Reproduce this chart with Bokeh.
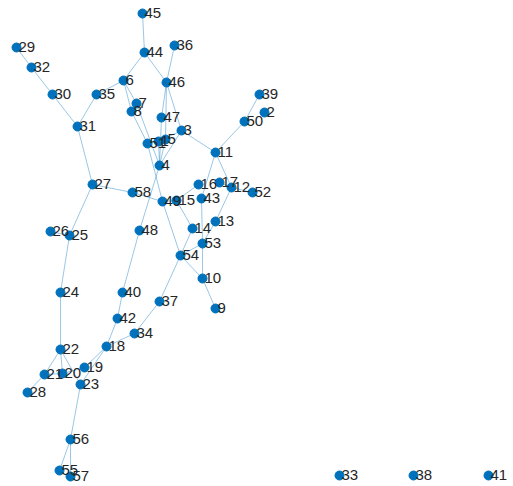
from bokeh.plotting import figure
from bokeh.models import Range1d, ColumnDataSource
from bokeh.core.properties import value
from bokeh.embed import file_html
from bokeh.resources import INLINE

node_ids = [1, 2, 3, 4, 5, 6, 7, 8, 9, 10,
            11, 12, 13, 14, 15, 16, 17, 18, 19, 20,
            21, 22, 23, 24, 25, 26, 27, 28, 29, 30,
            31, 32, 33, 34, 35, 36, 37, 38, 39, 40,
            41, 42, 43, 44, 45, 46, 47, 48, 49, 50,
            51, 52, 53, 54, 55, 56, 57, 58]
node_px = [158, 264, 181, 159, 165, 123, 136, 131, 215, 202,
           215, 231, 215, 192, 176, 198, 219, 106, 84, 62,
           44, 60, 80, 60, 69, 50, 92, 27, 16, 52,
           77, 31, 339, 134, 96, 174, 159, 413, 259, 122,
           488, 117, 201, 144, 142, 166, 161, 139, 162, 244,
           147, 252, 202, 180, 59, 70, 70, 132]
node_py = [141, 112, 130, 165, 139, 80, 103, 111, 308, 278,
           152, 187, 221, 228, 200, 184, 182, 346, 367, 373,
           374, 349, 384, 292, 235, 231, 184, 392, 47, 94,
           126, 67, 475, 333, 94, 45, 301, 475, 94, 292,
           475, 318, 198, 52, 13, 82, 117, 230, 201, 121,
           143, 192, 243, 255, 470, 439, 476, 192]

edge_src = [29, 32, 30, 31, 35, 31, 6, 44, 44, 36, 6, 6, 8, 7, 46, 46, 47, 3, 3, 3,
            3, 11, 50, 11, 11, 16, 17, 12, 12, 13, 43, 53, 53, 14, 15, 49, 58, 49, 27, 4,
            48, 40, 42, 51, 1, 54, 10, 54, 37, 34, 18, 18, 19, 22, 24, 25, 25, 22, 22, 22,
            21, 21, 23, 56, 56, 5]
edge_dst = [32, 30, 31, 35, 6, 27, 44, 45, 46, 46, 7, 8, 51, 4, 47, 5, 4, 46, 4, 1,
            11, 50, 39, 43, 12, 15, 12, 52, 13, 53, 53, 10, 54, 54, 14, 54, 49, 15, 58, 48,
            40, 42, 18, 49, 4, 10, 9, 37, 34, 18, 19, 23, 20, 24, 25, 27, 26, 21, 20, 23,
            28, 20, 56, 55, 57, 4]

W, H = 513, 486
xs = node_px
ys = [H - v for v in node_py]
pos = {n: (x, y) for n, x, y in zip(node_ids, xs, ys)}

p = figure(width=W, height=H, output_backend="svg", toolbar_location=None,
           x_range=Range1d(0, W), y_range=Range1d(0, H),
           min_border=0, outline_line_color=None)
p.axis.visible = False
p.grid.visible = False
p.background_fill_color = "white"
p.border_fill_color = "white"

ex = [[pos[a][0], pos[b][0]] for a, b in zip(edge_src, edge_dst)]
ey = [[pos[a][1], pos[b][1]] for a, b in zip(edge_src, edge_dst)]
p.multi_line(ex, ey, line_color="#0072BD", line_alpha=0.4, line_width=1)

src = ColumnDataSource(dict(x=xs, y=ys, label=[str(n) for n in node_ids]))
p.scatter("x", "y", source=src, size=9, fill_color="#0072BD", line_color="#0072BD")
p.text("x", "y", text="label", source=src, x_offset=2, y_offset=-1,
       text_font=value("Liberation Sans"), text_font_size="15px",
       text_color="#262626", text_baseline="middle", text_align="left")

open("out.html", "w").write(file_html(p, INLINE))
